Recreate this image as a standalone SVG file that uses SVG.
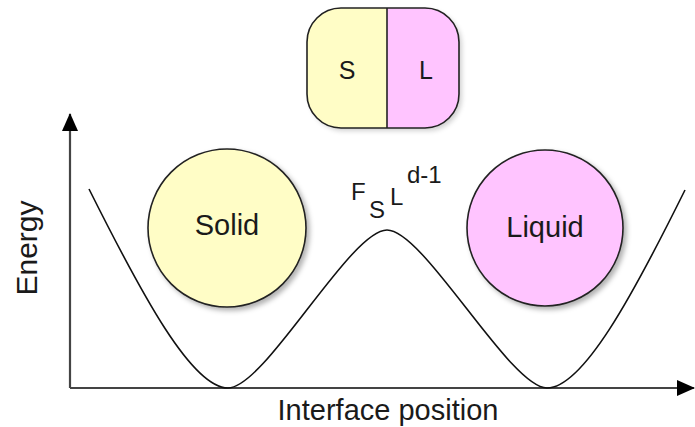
<svg xmlns="http://www.w3.org/2000/svg" width="695" height="427" viewBox="0 0 695 427">
<defs>
<filter id="sh" x="-20%" y="-20%" width="140%" height="140%">
<feDropShadow dx="3" dy="3" stdDeviation="2.5" flood-color="#000" flood-opacity="0.3"/>
</filter>
<marker id="ah" viewBox="0 0 18 16" refX="17" refY="8" markerWidth="18" markerHeight="16" markerUnits="userSpaceOnUse" orient="auto">
<path d="M0,0 L18,8 L0,16 Z" fill="#000"/>
</marker>
<clipPath id="pc"><rect x="307" y="8" width="152" height="120" rx="34" ry="34"/></clipPath>
</defs>
<style>
.lbl{font-family:"Liberation Sans",Arial,sans-serif;fill:#1a1a1a}
.axis{fill:none;stroke:#444;stroke-width:2.2}
.curve{fill:none;stroke:#111;stroke-width:1.6}
.node{stroke:#222;stroke-width:1.6}
</style>
<rect width="695" height="427" fill="#fff"/>
<g id="connectors">
<path class="axis" d="M70,388 L70,114" marker-end="url(#ah)"/>
<path class="axis" d="M70,388 L694,388" marker-end="url(#ah)"/>
<path class="curve" d="M89,189 C142,295 192,388 228,388 C265,388 350,230 387,230 C424,230 510,388 547,388 C583,388 633,295 685,190"/>
</g>
<g id="pill">
<rect x="307" y="8" width="152" height="120" rx="34" ry="34" fill="#000" filter="url(#sh)" opacity="0.6"/>
<g clip-path="url(#pc)">
<rect x="307" y="8" width="80" height="120" fill="#fffdc6"/>
<rect x="387" y="8" width="72" height="120" fill="#ffc4ff"/>
</g>
<rect class="node" x="307" y="8" width="152" height="120" rx="34" ry="34" fill="none"/>
<line x1="387" y1="8" x2="387" y2="128" stroke="#222" stroke-width="1.6"/>
<text class="lbl" x="347" y="79" font-size="25" text-anchor="middle">S</text>
<text class="lbl" x="426" y="79" font-size="25" text-anchor="middle">L</text>
</g>
<g id="solid">
<circle class="node" cx="227" cy="228" r="79" fill="#fffdc6" filter="url(#sh)"/>
<text class="lbl" x="227" y="235" font-size="29" text-anchor="middle">Solid</text>
</g>
<g id="liquid">
<circle class="node" cx="545" cy="228" r="78" fill="#ffc4ff" filter="url(#sh)"/>
<text class="lbl" x="545" y="237" font-size="29" text-anchor="middle" fill="#2a0a2a">Liquid</text>
</g>
<g id="barrier-label">
<text class="lbl" x="351" y="200" font-size="24">F</text>
<text class="lbl" x="369" y="218" font-size="24">S</text>
<text class="lbl" x="390" y="205" font-size="24">L</text>
<text class="lbl" x="407" y="183" font-size="24">d-1</text>
</g>
<g id="axis-labels">
<text class="lbl" x="388" y="420" font-size="29" text-anchor="middle">Interface position</text>
<text class="lbl" transform="translate(37,248) rotate(-90)" x="0" y="0" font-size="30" text-anchor="middle">Energy</text>
</g>
</svg>
